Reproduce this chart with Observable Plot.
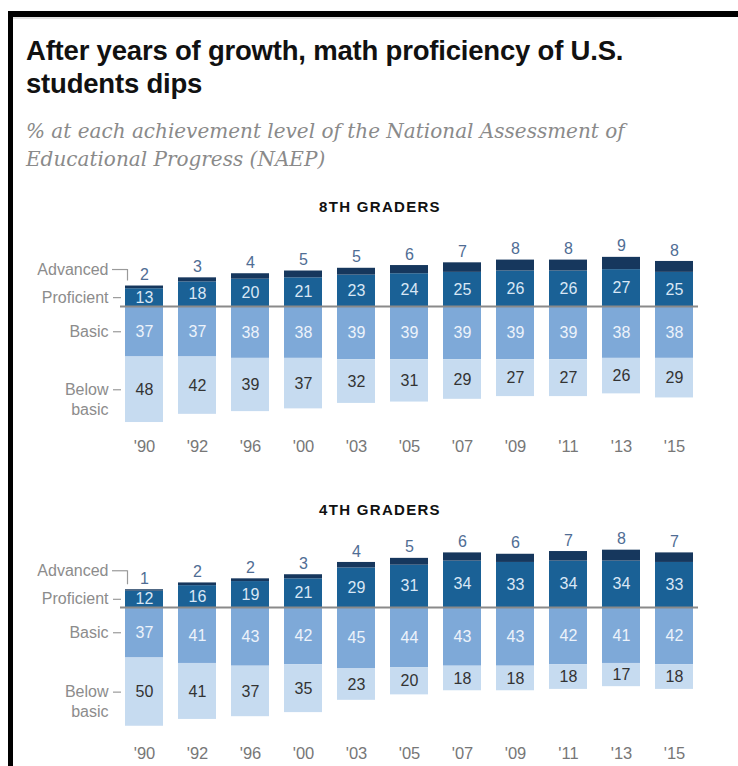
<!DOCTYPE html>
<html>
<head>
<meta charset="utf-8">
<script src="https://cdn.jsdelivr.net/npm/d3@7"></script>
<script src="https://cdn.jsdelivr.net/npm/@observablehq/plot@0.6"></script>
<style>
  html, body { margin: 0; padding: 0; background: #fff; }
  body { width: 738px; height: 766px; position: relative; font-family: "Liberation Sans", Arial, sans-serif; }
  #topline { position: fixed; left: 8px; right: 0; top: 11px; height: 6px; background: #000; z-index: 5; }
  #leftline { position: absolute; left: 8px; top: 11px; width: 5px; height: 755px; background: #000; }
  #shadow { position: absolute; left: 13px; top: 17px; width: 705px; height: 2px; background: linear-gradient(to right, #e2e2e2 90%, #fff); }
  #title { position: absolute; left: 26px; top: 34px; font-size: 27.5px; line-height: 33px; font-weight: bold; color: #111; letter-spacing: -0.2px; white-space: nowrap; }
  #subtitle { position: absolute; left: 26px; top: 117px; font-family: "DejaVu Serif", Georgia, serif; font-style: italic; font-size: 20px; line-height: 28px; color: #8a8a8a; white-space: nowrap; }
  .hdr { position: absolute; left: 280px; width: 200px; text-align: center; font-weight: bold; font-size: 15px; line-height: 16px; color: #111; letter-spacing: 1.3px; }
  .chart { position: absolute; left: 0; }
</style>
</head>
<body>
<div id="leftline"></div>
<div id="shadow"></div>
<div id="title">After years of growth, math proficiency of U.S.<br>students dips</div>
<div id="subtitle">% at each achievement level of the National Assessment of<br>Educational Progress (NAEP)</div>
<div class="hdr" style="top:199px">8TH GRADERS</div>
<div class="chart" id="c8" style="top:230px"></div>
<div class="hdr" style="top:502px">4TH GRADERS</div>
<div class="chart" id="c4" style="top:530px"></div>
<div id="topline"></div>
<script>
// ---- data ----
const years = ["'90", "'92", "'96", "'00", "'03", "'05", "'07", "'09", "'11", "'13", "'15"];
const levels = ["Proficient", "Advanced", "Basic", "Below basic"];

const adv8   = [2, 3, 4, 5, 5, 6, 7, 8, 8, 9, 8];
const prof8  = [13, 18, 20, 21, 23, 24, 25, 26, 26, 27, 25];
const basic8 = [37, 37, 38, 38, 39, 39, 39, 39, 39, 38, 38];
const below8 = [48, 42, 39, 37, 32, 31, 29, 27, 27, 26, 29];

const adv4   = [1, 2, 2, 3, 4, 5, 6, 6, 7, 8, 7];
const prof4  = [12, 16, 19, 21, 29, 31, 34, 33, 34, 34, 33];
const basic4 = [37, 41, 43, 42, 45, 44, 43, 43, 42, 41, 42];
const below4 = [50, 41, 37, 35, 23, 20, 18, 18, 18, 17, 18];

// ---- style ----
const colors = ["#1a6196", "#16375d", "#7ea9d8", "#c6dbf0"];
const numFont = "'Liberation Sans', Arial, sans-serif";
const K = 1.365; // px per percentage point

function panel(el, adv, prof, basic, below, cfg) {
  const rows = [];
  years.forEach((y, i) => {
    rows.push({year: y, level: "Proficient", v: prof[i]});
    rows.push({year: y, level: "Advanced", v: adv[i]});
    rows.push({year: y, level: "Basic", v: -basic[i]});
    rows.push({year: y, level: "Below basic", v: -below[i]});
  });
  const idx = years.map((y, i) => i);
  const top = i => prof[i] + adv[i];

  const mt = 20;
  const ymin = -92;
  const ymax = (cfg.zero - mt) / K;
  const plotBottom = cfg.zero - ymin * K;
  const H = cfg.height;
  const mb = H - plotBottom;
  const tickPadding = cfg.axisCenter - 6 - plotBottom;

  const y0 = years[0];
  const lab = {fontSize: 16, fill: "#8c8c8c", textAnchor: "end", dx: -36, fontFamily: numFont};
  const dash = {stroke: "#9a9a9a", strokeWidth: 1.2, dx: -12, insetRight: 30};

  const chart = Plot.plot({
    width: 738,
    height: H,
    marginTop: mt,
    marginBottom: mb,
    marginLeft: 120,
    marginRight: 40,
    style: {fontFamily: numFont, fontSize: "16.5px", color: "#777777", background: "transparent"},
    x: {type: "band", domain: years, range: [110, 708], paddingInner: 0.283, paddingOuter: 0.283,
        tickSize: 0, tickPadding: tickPadding, label: null},
    y: {domain: [ymin, ymax], axis: null},
    color: {domain: levels, range: colors},
    marks: [
      Plot.barY(rows, Plot.stackY({x: "year", y: "v", z: "level", fill: "level", order: null})),
      Plot.ruleY([0], {stroke: "#8a8a8a", strokeWidth: 2}),
      // value labels
      Plot.text(idx, {x: i => years[i], y: i => top(i), text: i => adv[i], dy: -11, fill: "#4f6d94", fontSize: 16}),
      Plot.text(idx, {x: i => years[i], y: i => prof[i] / 2, text: i => prof[i], fill: "#d9e7f5", fontSize: 16}),
      Plot.text(idx, {x: i => years[i], y: i => -basic[i] / 2, text: i => basic[i], fill: "#edf3fb", fontSize: 16}),
      Plot.text(idx, {x: i => years[i], y: i => -(basic[i] + below[i] / 2), text: i => below[i], fill: "#333333", fontSize: 16}),
      // left-hand level labels
      Plot.text([0], {...lab, x: () => y0, y: () => top(0), dy: cfg.advDy, text: () => "Advanced"}),
      Plot.tickY([0], {x: () => y0, y: () => top(0), dy: cfg.advDy, stroke: "#9a9a9a", strokeWidth: 1.2, dx: -13, insetRight: 23}),
      Plot.ruleX([0], {x: () => y0, y1: () => top(0), y2: () => top(0), dx: -17, insetTop: cfg.advDy, insetBottom: 5, stroke: "#9a9a9a", strokeWidth: 1.2}),
      Plot.text([0], {...lab, x: () => y0, y: () => prof[0] / 2, text: () => "Proficient"}),
      Plot.tickY([0], {...dash, x: () => y0, y: () => prof[0] / 2}),
      Plot.text([0], {...lab, x: () => y0, y: () => -basic[0] / 2, text: () => "Basic"}),
      Plot.tickY([0], {...dash, x: () => y0, y: () => -basic[0] / 2}),
      Plot.text([0], {...lab, x: () => y0, y: () => -(basic[0] + below[0] / 2), text: () => "Below\nbasic", lineAnchor: "top", lineHeight: 1.25, dy: -9}),
      Plot.tickY([0], {...dash, x: () => y0, y: () => -(basic[0] + below[0] / 2)})
    ]
  });
  document.getElementById(el).appendChild(chart);
}

panel("c8", adv8, prof8, basic8, below8, {zero: 76, axisCenter: 216, height: 240, advDy: -16.5});
panel("c4", adv4, prof4, basic4, below4, {zero: 77, axisCenter: 223, height: 236, advDy: -19});
</script>
</body>
</html>
